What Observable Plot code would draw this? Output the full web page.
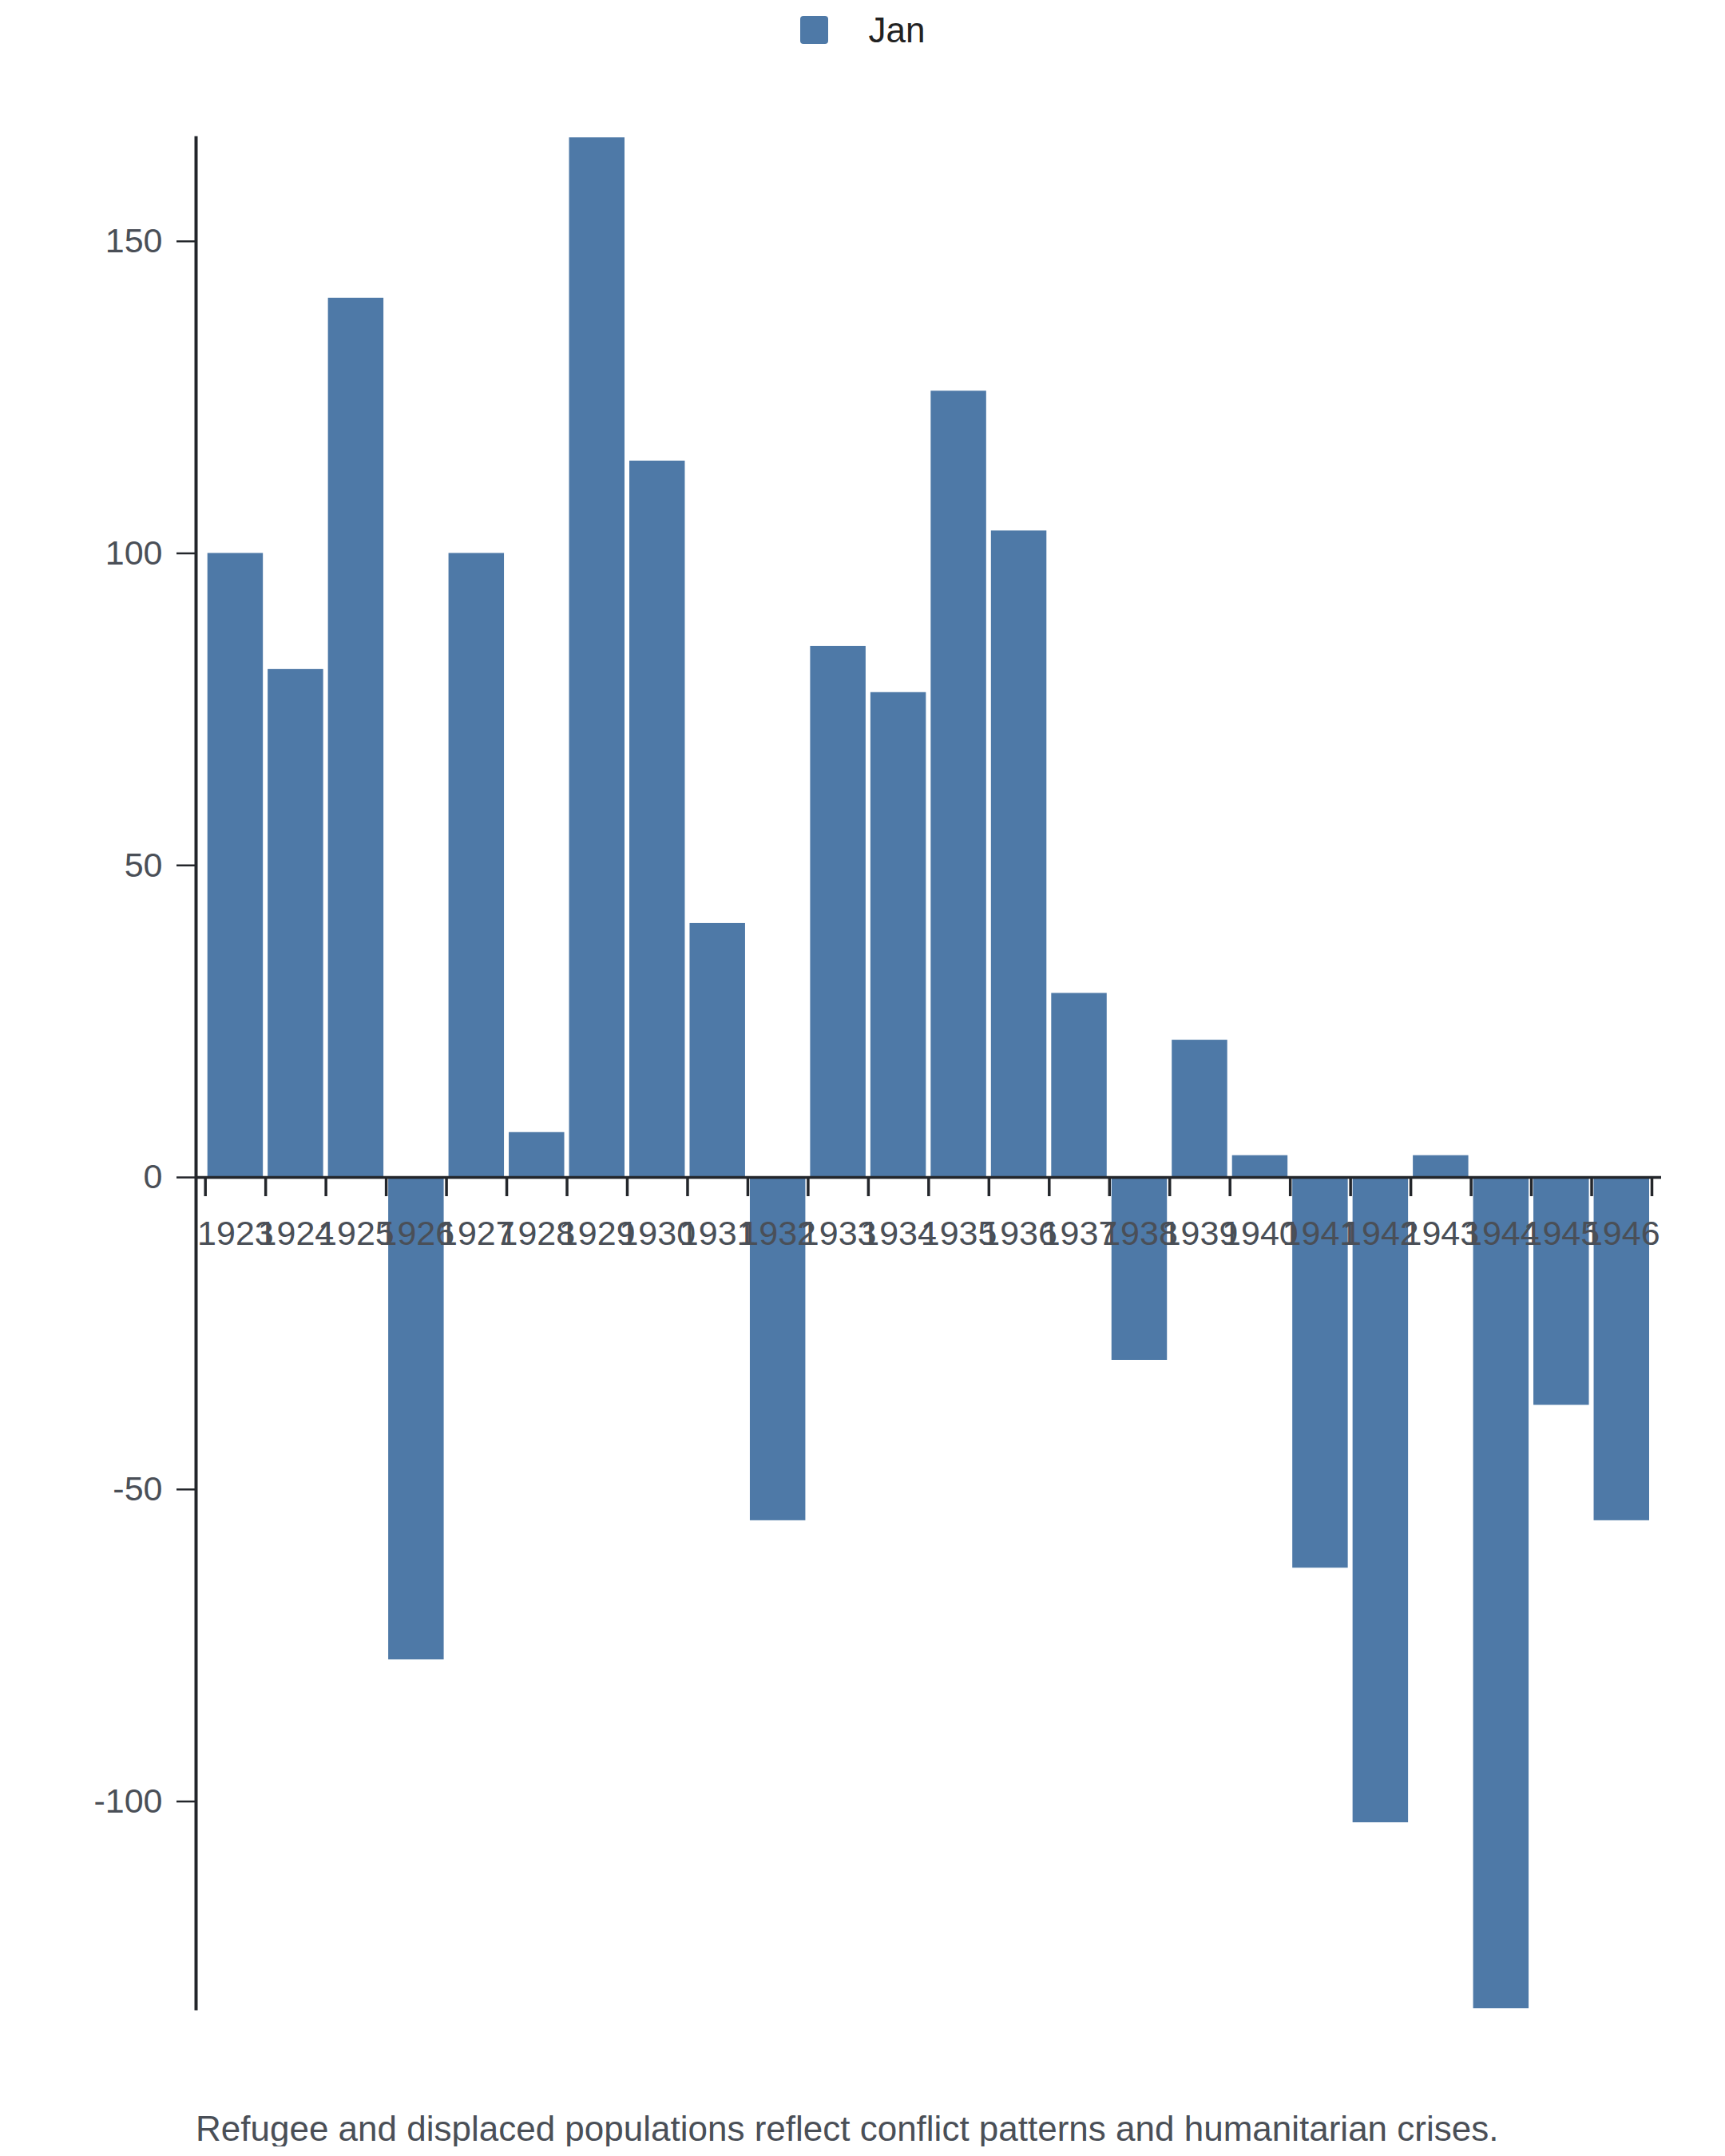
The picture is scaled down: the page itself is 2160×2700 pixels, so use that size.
<!DOCTYPE html>
<html><head><meta charset="utf-8">
<script src="https://cdn.jsdelivr.net/npm/d3@7"></script>
<script src="https://cdn.jsdelivr.net/npm/@observablehq/plot@0.6"></script>
<style>
html,body{margin:0;padding:0;background:#fff;}
body{width:2160px;font-family:"Liberation Sans",Arial,sans-serif;}
#legend{height:80px;box-sizing:border-box;padding-top:20px;display:flex;justify-content:center;align-items:flex-start;gap:51px;}
#legend .sw{width:35px;height:35px;border-radius:4px;background:#4e79a7;}
#legend .lb{font-size:44px;line-height:44px;color:#222;margin-top:-4px;}
#chart svg{display:block;}
#caption{padding-left:245px;margin-top:84px;font-size:44px;line-height:44px;color:#4a4f57;white-space:nowrap;}
</style></head>
<body>
<div id="legend"></div>
<div id="chart"></div>
<div id="caption"></div>
<script>
const years = [1923,1924,1925,1926,1927,1928,1929,1930,1931,1932,1933,1934,1935,1936,1937,1938,1939,1940,1941,1942,1943,1944,1945,1946];
const values = [100,81.4,140.9,-77.3,100,7.2,166.6,114.8,40.7,-55,85.1,77.7,126,103.6,29.5,-29.3,22,3.5,-62.6,-103.4,3.5,-133.2,-36.5,-55];
const yTicks = [-100,-50,0,50,100,150];
const seriesName = "Jan";
const captionText = "Refugee and displaced populations reflect conflict patterns and humanitarian crises.";
const barColor = "#4e79a7";

const data = years.map((year, i) => ({year, value: values[i]}));
const boundaries = years.map(y => y - 0.5).concat([years[years.length - 1] + 0.5]);

const legend = document.getElementById("legend");
legend.innerHTML = `<div class="sw"></div><div class="lb">${seriesName}</div>`;
document.getElementById("caption").textContent = captionText;

const axisColor = "#23262b";
const textColor = "#4a4f57";
const chart = Plot.plot({
  width: 2160,
  height: 2480,
  marginTop: 92,
  marginBottom: 45,
  marginLeft: 245,
  marginRight: 80,
  style: {fontFamily: '"Liberation Sans", Arial, sans-serif', fontSize: "43px", color: axisColor, background: "#fff"},
  x: {type: "linear", domain: [boundaries[0], boundaries[boundaries.length - 1]], insetLeft: 11.7, insetRight: 12, axis: null},
  y: {axis: null},
  marks: [
    Plot.rectY(data, {x1: d => d.year - 0.5, x2: d => d.year + 0.5, y: "value", insetLeft: 3, insetRight: 3, fill: barColor}),
    Plot.axisY({ticks: yTicks, tickSize: 24, tickPadding: 18, tickFormat: d => String(d), fontSize: 43, fill: textColor, stroke: axisColor, strokeWidth: 2.5, label: null}),
    Plot.frame({anchor: "left", stroke: axisColor, strokeWidth: 4}),
    Plot.ruleY([0], {stroke: axisColor, strokeWidth: 3.7}),
    Plot.ruleX(boundaries, {x: d => d, y1: 0, y2: 0, insetBottom: -24, stroke: axisColor, strokeWidth: 3.5}),
    Plot.text(data, {x: "year", y: 0, text: d => String(d.year), lineAnchor: "top", dy: 53.5, fontSize: 43, fill: textColor})
  ]
});
document.getElementById("chart").appendChild(chart);
</script>
</body></html>
